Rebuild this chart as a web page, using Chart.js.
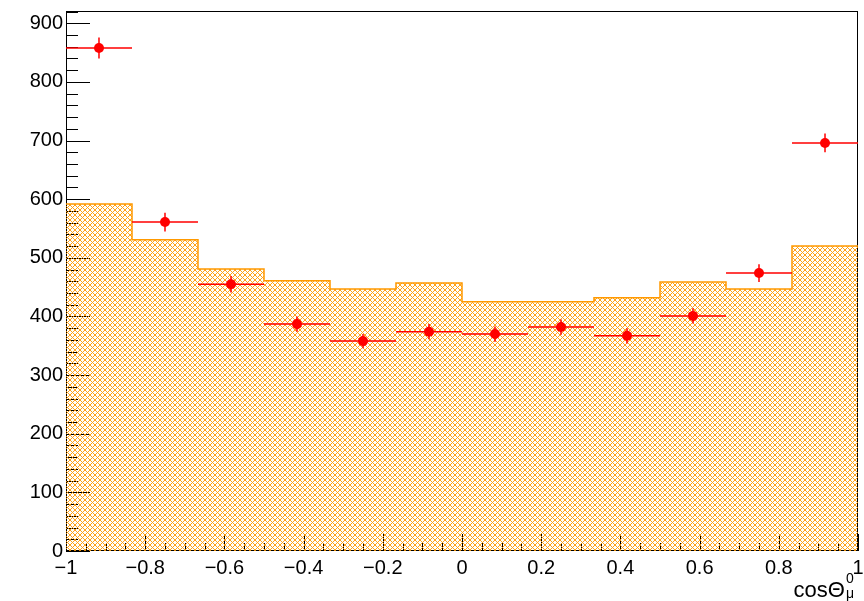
<!DOCTYPE html>
<html>
<head>
<meta charset="utf-8">
<script src="https://cdn.jsdelivr.net/npm/chart.js@4.4.1/dist/chart.umd.min.js"></script>
<style>
  html, body { margin: 0; padding: 0; background: #fff; }
  #wrap { width: 864px; height: 601px; position: relative; }
</style>
</head>
<body>
<div id="wrap"><canvas id="chart"></canvas></div>
<script>
// Histogram binning (12 bins over cos theta)
const binEdges = [-1, -0.8333, -0.6667, -0.5, -0.3333, -0.1667, 0, 0.1667, 0.3333, 0.5, 0.6667, 0.8333, 1];
const binCenters = [-0.9167, -0.75, -0.5833, -0.4167, -0.25, -0.0833, 0.0833, 0.25, 0.4167, 0.5833, 0.75, 0.9167];

// Simulation (hatched histogram)
const mcValues = [592, 531, 481, 461, 447, 457, 425, 425, 432, 459, 447, 520];

// Data points with statistical errors
const dataValues = [858, 561, 455, 387, 358, 374, 370, 382, 367, 401, 474, 696];
const dataErrors = [18, 16, 14, 13, 12, 13, 13, 13, 13, 13, 15, 16];

// Axis ticks
const xTickValues = [-1, -0.8, -0.6, -0.4, -0.2, 0, 0.2, 0.4, 0.6, 0.8, 1];
const yTickValues = [0, 100, 200, 300, 400, 500, 600, 700, 800, 900];

const ORANGE = 'rgb(255,153,0)';
const RED = 'rgb(255,0,0)';
const FONT = '"Liberation Sans", Arial, Helvetica, sans-serif';

// Cross-hatch pattern like ROOT fill style 3144 (1px diagonals)
function makeHatch() {
    const size = 5;
    const c = document.createElement('canvas');
    c.width = size;
    c.height = size;
    const g = c.getContext('2d');
    g.fillStyle = 'rgba(255,153,0,0.9)';
    for (let i = 0; i < size; i++) {
        g.fillRect(i, i, 1, 1);
        if (size - 1 - i !== i) g.fillRect(size - 1 - i, i, 1, 1);
    }
    return g.createPattern(c, 'repeat');
}

// Histogram outline points (horizontal run over each bin)
const histPoints = mcValues.map((v, i) => ({ x: binEdges[i], y: v }));
histPoints.push({ x: binEdges[binEdges.length - 1], y: mcValues[mcValues.length - 1] });

const dataPoints = dataValues.map((v, i) => ({ x: binCenters[i], y: v }));

// Frame and inner ticks, drawn under the hatch as ROOT does
const frameAndTicks = {
    id: 'frameAndTicks',
    beforeDatasetsDraw(chart) {
        const { ctx, chartArea: a, scales } = chart;
        ctx.save();
        ctx.strokeStyle = '#000';
        ctx.lineWidth = 1;
        ctx.strokeRect(a.left + 0.5, a.top + 0.5, a.right - a.left - 1, a.bottom - a.top - 1);

        ctx.beginPath();
        // y ticks: major every 100, minor every 20
        for (let v = 0; v <= scales.y.max; v += 20) {
            const py = Math.round(scales.y.getPixelForValue(v)) + 0.5;
            const len = (v % 100 === 0) ? 24 : 12;
            ctx.moveTo(a.left, py);
            ctx.lineTo(a.left + len, py);
        }
        // x ticks: major every 0.2, minor every 0.05
        for (let k = 0; k <= 40; k++) {
            const v = -1 + k * 0.05;
            const px = Math.round(scales.x.getPixelForValue(v)) + 0.5;
            const len = (k % 4 === 0) ? 17 : 8;
            ctx.moveTo(px, a.bottom);
            ctx.lineTo(px, a.bottom - len);
        }
        ctx.stroke();
        ctx.restore();
    },
    beforeDatasetDraw(chart, args) {
        if (args.index !== 1) return;
        const { ctx, scales } = chart;
        ctx.save();
        ctx.strokeStyle = RED;
        ctx.lineWidth = 1.5;
        ctx.beginPath();
        dataValues.forEach((v, i) => {
            const py = scales.y.getPixelForValue(v);
            const px = scales.x.getPixelForValue(binCenters[i]);
            ctx.moveTo(scales.x.getPixelForValue(binEdges[i]), py);
            ctx.lineTo(scales.x.getPixelForValue(binEdges[i + 1]), py);
            ctx.moveTo(px, scales.y.getPixelForValue(v - dataErrors[i]));
            ctx.lineTo(px, scales.y.getPixelForValue(v + dataErrors[i]));
        });
        ctx.stroke();
        ctx.restore();
    },
    afterDraw(chart) {
        // x axis title: cosΘ with superscript 0 and subscript μ
        const { ctx } = chart;
        ctx.save();
        ctx.fillStyle = '#000';
        ctx.textBaseline = 'alphabetic';
        ctx.font = '22px ' + FONT;
        const base = 'cosΘ';
        const wBase = ctx.measureText(base).width;
        ctx.font = '14px ' + FONT;
        const wSup = Math.max(ctx.measureText('0').width, ctx.measureText('μ').width);
        const x0 = 854 - wBase - wSup - 1;
        ctx.font = '22px ' + FONT;
        ctx.fillText(base, x0, 597);
        ctx.font = '14px ' + FONT;
        ctx.fillText('0', x0 + wBase + 1, 583);
        ctx.fillText('μ', x0 + wBase + 1, 598);
        ctx.restore();
    }
};

const ctx = document.getElementById('chart').getContext('2d');
new Chart(ctx, {
    type: 'scatter',
    data: {
        datasets: [
            {
                type: 'line',
                label: 'MC',
                data: histPoints,
                stepped: 'before',
                borderColor: ORANGE,
                borderWidth: 1.5,
                backgroundColor: makeHatch(),
                fill: 'origin',
                pointRadius: 0,
                order: 2
            },
            {
                label: 'Data',
                data: dataPoints,
                backgroundColor: RED,
                borderColor: RED,
                pointRadius: 5,
                pointHoverRadius: 5,
                borderWidth: 0,
                order: 1
            }
        ]
    },
    options: {
        responsive: true,
        maintainAspectRatio: false,
        animation: false,
        layout: { padding: { left: 0, top: 11, right: 6, bottom: 0 } },
        plugins: {
            legend: { display: false },
            tooltip: { enabled: false }
        },
        scales: {
            x: {
                type: 'linear',
                min: -1,
                max: 1,
                grid: { display: false, drawTicks: false },
                border: { display: false },
                afterBuildTicks: s => { s.ticks = xTickValues.map(v => ({ value: v })); },
                afterFit: s => {
                    s.height = 50;
                    s.paddingLeft = 0;
                    s.paddingRight = 0;
                },
                ticks: {
                    padding: 5,
                    color: '#000',
                    font: { family: FONT, size: 20 },
                    maxRotation: 0,
                    autoSkip: false,
                    callback: v => {
                        const r = Math.round(v * 10) / 10;
                        const s = Math.abs(r).toString();
                        return r < 0 ? '\u2212' + s : s;
                    }
                }
            },
            y: {
                type: 'linear',
                min: 0,
                max: 921,
                grid: { display: false, drawTicks: false },
                border: { display: false },
                afterBuildTicks: s => { s.ticks = yTickValues.map(v => ({ value: v })); },
                afterFit: s => {
                    s.width = 66;
                    s.paddingTop = 0;
                    s.paddingBottom = 0;
                },
                ticks: {
                    padding: 3,
                    color: '#000',
                    font: { family: FONT, size: 20 },
                    autoSkip: false
                }
            }
        }
    },
    plugins: [frameAndTicks]
});
</script>
</body>
</html>
